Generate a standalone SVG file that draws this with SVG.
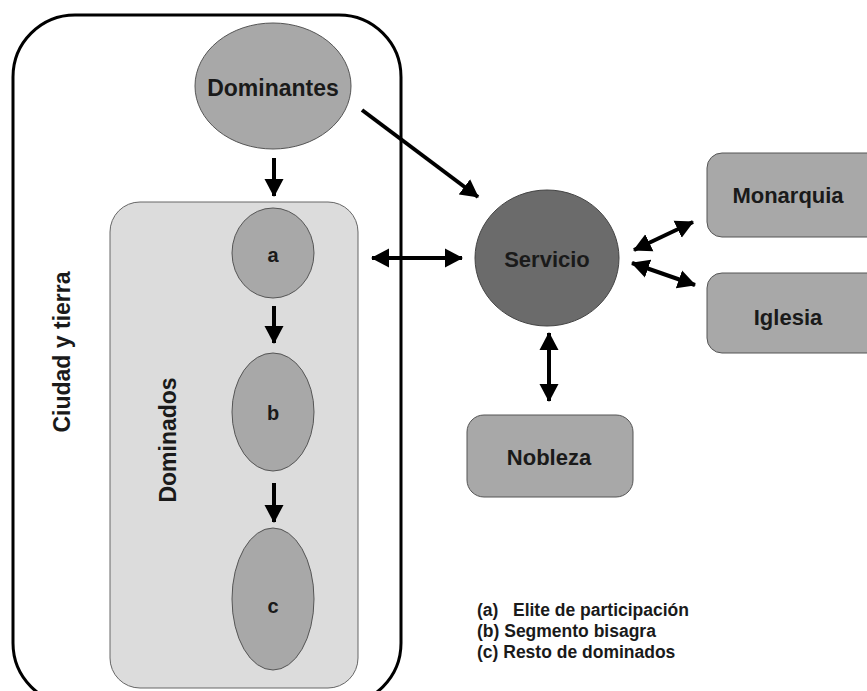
<svg xmlns="http://www.w3.org/2000/svg" width="867" height="691" viewBox="0 0 867 691">
<style>
.lbl{font-family:"Liberation Sans",Arial,sans-serif;font-weight:bold;fill:#1a1a1a;text-anchor:middle;dominant-baseline:central}
.node{fill:#a8a8a8;stroke:#555;stroke-width:1}
.con{stroke:#000;stroke-width:4;fill:none}
.leg{font-family:"Liberation Sans",Arial,sans-serif;font-weight:bold;fill:#1a1a1a;font-size:17.5px}
</style>
<defs>
<marker id="ah" markerUnits="userSpaceOnUse" markerWidth="20" markerHeight="20" viewBox="0 0 20 20" refX="17" refY="10" orient="auto-start-reverse">
<path d="M0,0.5 L18,10 L0,19.5 Z" fill="#000"/>
</marker>
</defs>
<rect width="867" height="691" fill="#fff"/>
<g id="ciudad">
<rect x="13" y="15" width="388" height="690" rx="62" fill="#fff" stroke="#000" stroke-width="3"/>
<text class="lbl" font-size="23" transform="translate(62,352) rotate(-90)">Ciudad y tierra</text>
</g>
<g id="dominados">
<rect x="110" y="202" width="248" height="486" rx="30" fill="#dcdcdc" stroke="#666" stroke-width="1"/>
<text class="lbl" font-size="23" transform="translate(168,440) rotate(-90)">Dominados</text>
</g>
<g id="dominantes">
<ellipse class="node" cx="273" cy="86" rx="78" ry="63"/>
<text class="lbl" font-size="23" x="273" y="88">Dominantes</text>
</g>
<g id="a">
<ellipse class="node" cx="273" cy="253" rx="41" ry="45"/>
<text class="lbl" font-size="20" x="273" y="255">a</text>
</g>
<g id="b">
<ellipse class="node" cx="273" cy="412" rx="41" ry="59"/>
<text class="lbl" font-size="20" x="273" y="413">b</text>
</g>
<g id="c">
<ellipse class="node" cx="273" cy="599" rx="41" ry="71"/>
<text class="lbl" font-size="20" x="273" y="606">c</text>
</g>
<g id="servicio">
<ellipse cx="547" cy="258" rx="72" ry="68" fill="#6b6b6b" stroke="#444" stroke-width="1"/>
<text class="lbl" font-size="22" x="547" y="259">Servicio</text>
</g>
<g id="monarquia">
<rect class="node" x="707" y="153" width="175" height="84" rx="15"/>
<text class="lbl" font-size="22" x="788" y="195">Monarquia</text>
</g>
<g id="iglesia">
<rect class="node" x="707" y="273" width="175" height="80" rx="15"/>
<text class="lbl" font-size="22" x="788" y="317">Iglesia</text>
</g>
<g id="nobleza">
<rect class="node" x="467" y="415" width="166" height="82" rx="17"/>
<text class="lbl" font-size="22" x="549" y="457">Nobleza</text>
</g>
<g id="connectors">
<line class="con" x1="274" y1="158" x2="274" y2="196" marker-end="url(#ah)"/>
<line class="con" x1="274" y1="306" x2="274" y2="343" marker-end="url(#ah)"/>
<line class="con" x1="274" y1="483" x2="274" y2="522" marker-end="url(#ah)"/>
<line class="con" x1="362" y1="110" x2="478" y2="197" marker-end="url(#ah)"/>
<line class="con" x1="372" y1="258" x2="462" y2="258" marker-start="url(#ah)" marker-end="url(#ah)"/>
<line class="con" x1="634" y1="250" x2="693" y2="222" marker-start="url(#ah)" marker-end="url(#ah)"/>
<line class="con" x1="632" y1="263" x2="695" y2="285" marker-start="url(#ah)" marker-end="url(#ah)"/>
<line class="con" x1="549" y1="333" x2="549" y2="401" marker-start="url(#ah)" marker-end="url(#ah)"/>
</g>
<g id="legend">
<text class="leg" x="477" y="616" xml:space="preserve">(a)   Elite de participación</text>
<text class="leg" x="477" y="637">(b) Segmento bisagra</text>
<text class="leg" x="477" y="658">(c) Resto de dominados</text>
</g>
</svg>
